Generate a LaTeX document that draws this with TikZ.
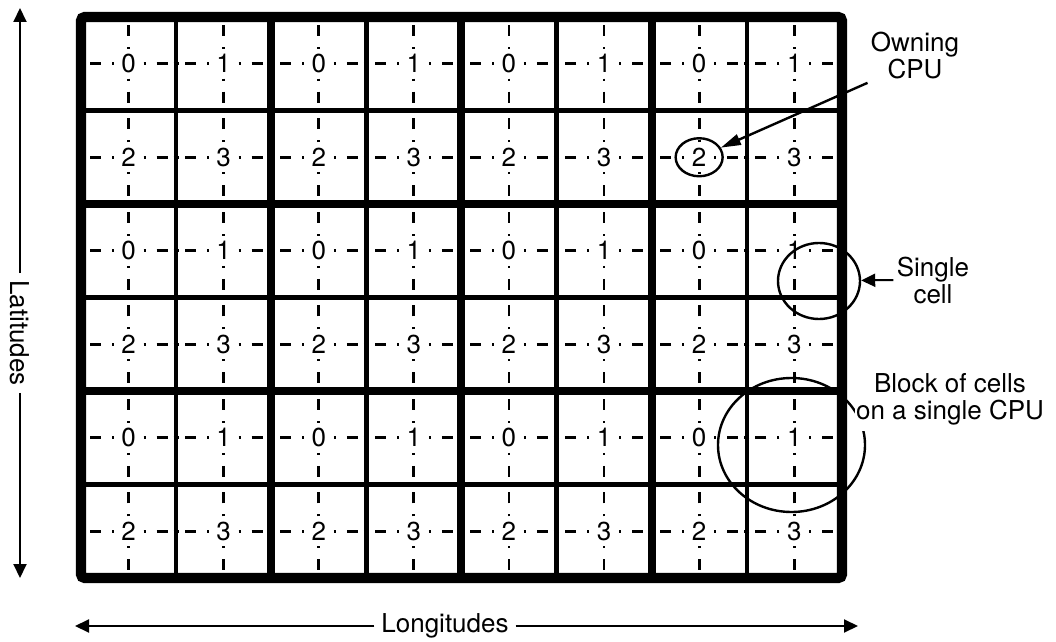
\documentclass[tikz,border=0pt]{standalone}
\usepackage{fontspec}
\setmainfont{TeX Gyre Heros}
\usetikzlibrary{arrows.meta,shapes.geometric}

\begin{document}
\begin{tikzpicture}[
  x=0.5pt, y=-0.5pt,
  >={Triangle[length=7pt,width=6.5pt]},
  font=\fontsize{13}{13.5}\selectfont,
  fin/.style={line width=2.2pt},
  epais/.style={line width=4pt},
  cadre/.style={line width=5.2pt,rounded corners=2pt},
  axe/.style={line width=1.4pt,dash pattern=on 1pt off 5.5pt on 5.5pt off 3pt on 3pt off 29.5pt,dash phase=40pt},
  num/.style={inner sep=1pt},
  cercle/.style={draw,ellipse,line width=1.2pt,inner sep=0pt},
  texte/.style={align=center,inner sep=1.5pt},
  fl/.style={->,line width=1pt},
]
  \useasboundingbox (0,0) rectangle (1056,642);

  % Axes pointilles et numeros des CPU
  \foreach \i in {0,...,7}{
    \foreach \j in {0,...,5}{
      \pgfmathsetmacro{\cx}{81+(\i+0.5)*95.1}
      \pgfmathsetmacro{\cy}{17+(\j+0.5)*93.5}
      \pgfmathtruncatemacro{\cpu}{mod(\i,2)+2*mod(\j,2)}
      \draw[axe] (\cx,\cy) -- ++(-47.55,0);
      \draw[axe] (\cx,\cy) -- ++(47.55,0);
      \draw[axe] (\cx,\cy) -- ++(0,-46.75);
      \draw[axe] (\cx,\cy) -- ++(0,46.75);
      \node[num] (c-\i-\j) at (\cx,\cy) {\cpu};
    }
  }

  % Grille : cellules, blocs, cadre
  \foreach \i in {1,3,5,7}
    \draw[fin] ({81+\i*95.1},17) -- ({81+\i*95.1},578);
  \foreach \j in {1,3,5}
    \draw[fin] (81,{17+\j*93.5}) -- (842,{17+\j*93.5});
  \foreach \i in {2,4,6}
    \draw[epais] ({81+\i*95.1},17) -- ({81+\i*95.1},578);
  \foreach \j in {2,4}
    \draw[epais] (81,{17+\j*93.5}) -- (842,{17+\j*93.5});
  \draw[cadre] (81,17) rectangle (842,578);

  % CPU proprietaire
  \node[cercle,minimum width=23.5pt,minimum height=19pt] (own) at (c-6-1) {};
  \node[texte] (owntxt) at (915,56) {Owning\\CPU};
  \draw[fl,line width=1.2pt,-{Triangle[length=10pt,width=5.5pt]}] (owntxt.south west) -- (own);

  % Cellule seule
  \node[cercle,minimum width=41pt,minimum height=38pt] (cell) at (819,281) {};
  \node[texte] (celltxt) at (933,280) {Single\\cell};
  \draw[fl] (celltxt.west) -- (cell);

  % Bloc de cellules
  \node[cercle,minimum width=73.5pt,minimum height=67pt] (bloc) at (791.5,445) {};
  \node[texte,fill=white,inner xsep=0.5pt,inner ysep=3pt] (bloctxt) at (950,399) {Block of cells\\on a single CPU};

  % Latitudes et longitudes
  \node[rotate=-90] (lat) at (20,333) {Latitudes};
  \coordinate (lath) at (20,8);
  \coordinate (latb) at (20,578);
  \draw[fl] (lat.west) -- (lath);
  \draw[fl] (lat.east) -- (latb);
  \node (lon) at (445,626) {Longitudes};
  \coordinate (long) at (75,626);
  \coordinate (lond) at (858,626);
  \draw[fl] (lon.west) -- (long);
  \draw[fl] (lon.east) -- (lond);
\end{tikzpicture}
\end{document}
